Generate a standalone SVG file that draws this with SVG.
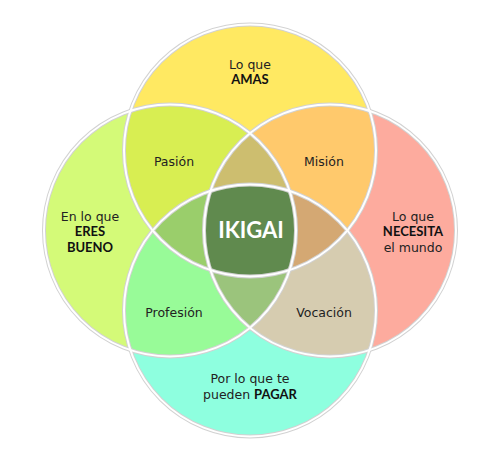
<svg xmlns="http://www.w3.org/2000/svg" xmlns:xlink="http://www.w3.org/1999/xlink" width="500" height="461" viewBox="0 0 500 461">
<style>
.t{font-family:"DejaVu Sans","Liberation Sans",sans-serif;font-size:12.5px;fill:#222;text-anchor:middle}
.b{font-family:Lato,"Open Sans",sans-serif;font-weight:bold;font-size:13px;fill:#111}
.ik{font-family:Lato,"Open Sans",sans-serif;font-weight:bold;font-size:22px;fill:#fff;text-anchor:middle}
.o1{fill:none;stroke:#d2d2d2;stroke-width:4}
.o2{fill:none;stroke:#fff;stroke-width:2}
</style>
<defs>
<circle id="cT" cx="250" cy="150.5" r="126"/>
<circle id="cL" cx="170" cy="230.5" r="126"/>
<circle id="cR" cx="330" cy="230.5" r="126"/>
<circle id="cB" cx="250" cy="310.5" r="126"/>
<clipPath id="kT"><use xlink:href="#cT"/></clipPath>
<clipPath id="kL"><use xlink:href="#cL"/></clipPath>
<clipPath id="kR"><use xlink:href="#cR"/></clipPath>
<clipPath id="kB"><use xlink:href="#cB"/></clipPath>
</defs>
<rect width="500" height="461" fill="#fff"/>
<g id="love"><use xlink:href="#cT" fill="#FFE962"/></g>
<g id="good"><use xlink:href="#cL" fill="#D4FA78"/></g>
<g id="world"><use xlink:href="#cR" fill="#FDAB9E"/></g>
<g id="paid"><use xlink:href="#cB" fill="#8EFFDF"/></g>
<g id="pasion" clip-path="url(#kT)"><use xlink:href="#cL" fill="#D8EE52"/></g>
<g id="mision" clip-path="url(#kT)"><use xlink:href="#cR" fill="#FFC96C"/></g>
<g id="profesion" clip-path="url(#kB)"><use xlink:href="#cL" fill="#98FB98"/></g>
<g id="vocacion" clip-path="url(#kB)"><use xlink:href="#cR" fill="#D6CCB0"/></g>
<g id="tlr" clip-path="url(#kT)"><g clip-path="url(#kL)"><use xlink:href="#cR" fill="#CDBE6F"/></g></g>
<g id="tlb" clip-path="url(#kT)"><g clip-path="url(#kL)"><use xlink:href="#cB" fill="#9ACE6B"/></g></g>
<g id="trb" clip-path="url(#kT)"><g clip-path="url(#kR)"><use xlink:href="#cB" fill="#D4A873"/></g></g>
<g id="lrb" clip-path="url(#kB)"><g clip-path="url(#kL)"><use xlink:href="#cR" fill="#9BC47C"/></g></g>
<g id="ikigai" clip-path="url(#kT)"><g clip-path="url(#kL)"><g clip-path="url(#kR)"><use xlink:href="#cB" fill="#608A4E"/></g></g></g>
<g id="outlines">
<use xlink:href="#cT" class="o1"/><use xlink:href="#cL" class="o1"/><use xlink:href="#cR" class="o1"/><use xlink:href="#cB" class="o1"/>
<use xlink:href="#cT" class="o2"/><use xlink:href="#cL" class="o2"/><use xlink:href="#cR" class="o2"/><use xlink:href="#cB" class="o2"/>
</g>
<g id="labels">
<text class="t" x="250" y="69">Lo que</text>
<text class="t b" x="250" y="84">AMAS</text>
<text class="t" x="174" y="166">Pasión</text>
<text class="t" x="324" y="166">Misión</text>
<text class="t" x="90" y="221">En lo que</text>
<text class="t b" x="90" y="236">ERES</text>
<text class="t b" x="90" y="252">BUENO</text>
<text class="t" x="413" y="221">Lo que</text>
<text class="t b" x="413" y="236">NECESITA</text>
<text class="t" x="413" y="252">el mundo</text>
<text class="ik" x="251" y="238">IKIGAI</text>
<text class="t" x="174" y="317">Profesión</text>
<text class="t" x="324" y="317">Vocación</text>
<text class="t" x="250" y="383">Por lo que te</text>
<text class="t" x="250" y="399">pueden <tspan class="b">PAGAR</tspan></text>
</g>
</svg>
